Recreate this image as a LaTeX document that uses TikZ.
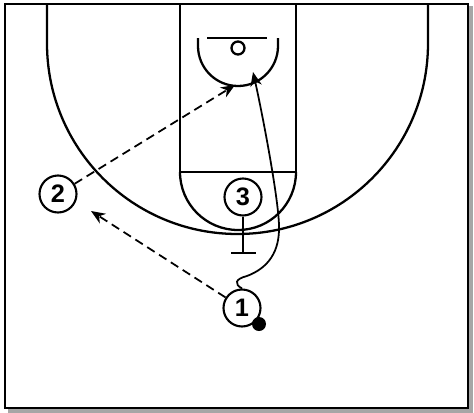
\documentclass[tikz,border=0pt]{standalone}
\usepackage{fontspec}
\setmainfont{Liberation Sans}
\usepackage{tikz}
\usetikzlibrary{arrows.meta}

\begin{document}
\begin{tikzpicture}[x=0.02cm,y=0.02cm]
\tikzset{player/.style = {shape=circle,draw,line width=1.2pt,minimum size=0.74cm,inner sep=0pt,font=\Large\bfseries}}
\tikzset{court/.style = {line width=1.3pt}}
\tikzset{pass/.style = {->,> = {Stealth[length=8pt,width=6.5pt,inset=2.5pt]},line width=1pt,dash pattern=on 5pt off 3pt}}
\tikzset{cut/.style = {->,> = {Stealth[length=8pt,width=6.5pt,inset=2.5pt]},line width=1pt}}
\useasboundingbox (0,0) rectangle (474,-413);
% frame
\draw[gray!70,line width=2pt] (471,-6) -- (471,-411) -- (8,-411);
\draw[line width=1.7pt] (5,-4) rectangle (468,-408);
% court
\draw[court] (47,-4) -- (47,-43.5) arc[start angle=180,end angle=360,radius=190.5] -- (428,-4);
\draw[court] (180,-4) -- (180,-172) -- (296,-172) -- (296,-4);
\draw[court] (180,-172) arc[start angle=180,end angle=360,radius=58];
\draw[court] (207,-38) -- (267,-38);
\draw[court] (238,-48) circle (6.5);
\draw[court] (198,-38) -- (198,-46) arc[start angle=180,end angle=360,radius=40] -- (278,-38);
% players
\node[player] (p1) at (242,-308) {1};
\node[player] (p2) at (58,-194) {2};
\node[player] (p3) at (243,-197) {3};
\fill (259,-324) circle (7);
% targets
\coordinate (tip2) at (235,-85);
\coordinate (tip1) at (91,-211);
\coordinate (rim) at (253,-72);
\coordinate (scr) at (243,-253);
\coordinate (scrL) at (231,-253);
\coordinate (scrR) at (256,-253);
% moves
\draw[pass] (p2) -- (tip2);
\draw[pass] (p1) -- (tip1);
\draw[cut] (p1.north) .. controls (234,-284) and (235,-279) .. (247,-276)
  .. controls (268,-268) and (280,-252) .. (279,-225)
  .. controls (278,-195) and (262,-112) .. (rim);
\draw[line width=1.2pt] (p3.south) -- (scr);
\draw[line width=1.2pt] (scrL) -- (scrR);
\end{tikzpicture}
\end{document}
